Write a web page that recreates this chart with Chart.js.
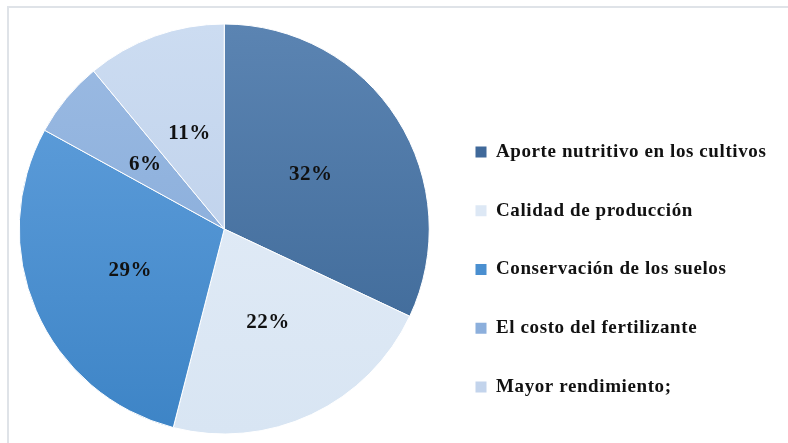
<!DOCTYPE html>
<html>
<head>
<meta charset="utf-8">
<script src="https://cdn.jsdelivr.net/npm/chart.js@4"></script>
<style>
  html, body { margin: 0; padding: 0; background: #fff; }
  #wrap { position: relative; width: 788px; height: 443px; overflow: hidden; }
  #frame { position: absolute; left: 7px; top: 6px; width: 820px; height: 460px;
           border-left: 2px solid #dfe3e8; border-top: 2px solid #dfe3e8; }
  canvas { position: absolute; left: 0; top: 0; }
</style>
</head>
<body>
<div id="wrap">
  <div id="frame"></div>
  <canvas id="chart" width="788" height="443"></canvas>
</div>
<script>
const categories = [
  "Aporte nutritivo en los cultivos",
  "Calidad de producción",
  "Conservación de los suelos",
  "El costo del fertilizante",
  "Mayor rendimiento;"
]
const shares = [32, 22, 29, 6, 11]

// slice shading, lighter at the top of the pie, darker at the bottom
const topColors = ["#5b84b2", "#e6eef8", "#64a2de", "#9cbbe3", "#ccdcf1"]
const bottomColors = ["#3a6594", "#d8e5f3", "#3d84c6", "#7fa6d6", "#b7cbe8"]
const legendColors = ["#40699a", "#dde8f5", "#4a8fd0", "#8cafdc", "#c3d4ec"]

const pieRadius = 205

const sliceLabels = {
  id: "sliceLabels",
  afterDatasetsDraw(chart) {
    const ctx = chart.ctx
    const meta = chart.getDatasetMeta(0)
    ctx.save()
    ctx.letterSpacing = "0.5px"
    ctx.font = 'bold 21px "Liberation Serif"'
    ctx.fillStyle = "#111"
    ctx.textAlign = "center"
    ctx.textBaseline = "middle"
    meta.data.forEach((arc, i) => {
      const p = arc.getProps(["x", "y", "startAngle", "endAngle", "outerRadius"], true)
      const mid = (p.startAngle + p.endAngle) / 2
      const r = p.outerRadius * 0.5
      ctx.fillText(shares[i] + "%", p.x + Math.cos(mid) * r, p.y + Math.sin(mid) * r + 1)
    })
    ctx.restore()
  }
}

// fixed legend width so the pie sits where it should, and wider legend text
const legendTweaks = {
  id: "legendTweaks",
  beforeLayout(chart) {
    const legend = chart.legend
    if (!legend || legend._fixed) return
    const fit = legend.fit
    legend.fit = function() {
      fit.call(this)
      this.width = 352.25
    }
    legend._fixed = true
  },
  beforeDraw(chart) {
    chart.ctx.letterSpacing = "0.6px"
  },
  afterDraw(chart) {
    chart.ctx.letterSpacing = "0px"
  }
}

new Chart(document.getElementById("chart"), {
  type: "pie",
  data: {
    labels: categories,
    datasets: [{
      data: shares,
      radius: pieRadius,
      clip: false,
      borderColor: "#ffffff",
      borderWidth: 1,
      backgroundColor: function(context) {
        const chart = context.chart
        const area = chart.chartArea
        const i = context.dataIndex
        if (!area) return bottomColors[i]
        const cy = (area.top + area.bottom) / 2
        const g = chart.ctx.createLinearGradient(0, cy - pieRadius, 0, cy + pieRadius)
        g.addColorStop(0, topColors[i])
        g.addColorStop(1, bottomColors[i])
        return g
      }
    }]
  },
  options: {
    responsive: false,
    animation: false,
    layout: {
      padding: { left: 12.75, top: 21.75, bottom: 6.75, right: 0 }
    },
    plugins: {
      tooltip: { enabled: false },
      legend: {
        position: "right",
        align: "end",
        labels: {
          boxWidth: 11,
          boxHeight: 11,
          padding: 39.75,
          color: "#111",
          font: { family: "Liberation Serif", weight: "bold", size: 19 },
          generateLabels: function(chart) {
            const items = Chart.overrides.pie.plugins.legend.labels.generateLabels(chart)
            return items.map((item, i) => Object.assign(item, {
              fillStyle: legendColors[i],
              strokeStyle: legendColors[i],
              lineWidth: 0
            }))
          }
        }
      }
    }
  },
  plugins: [legendTweaks, sliceLabels]
})
</script>
</body>
</html>
